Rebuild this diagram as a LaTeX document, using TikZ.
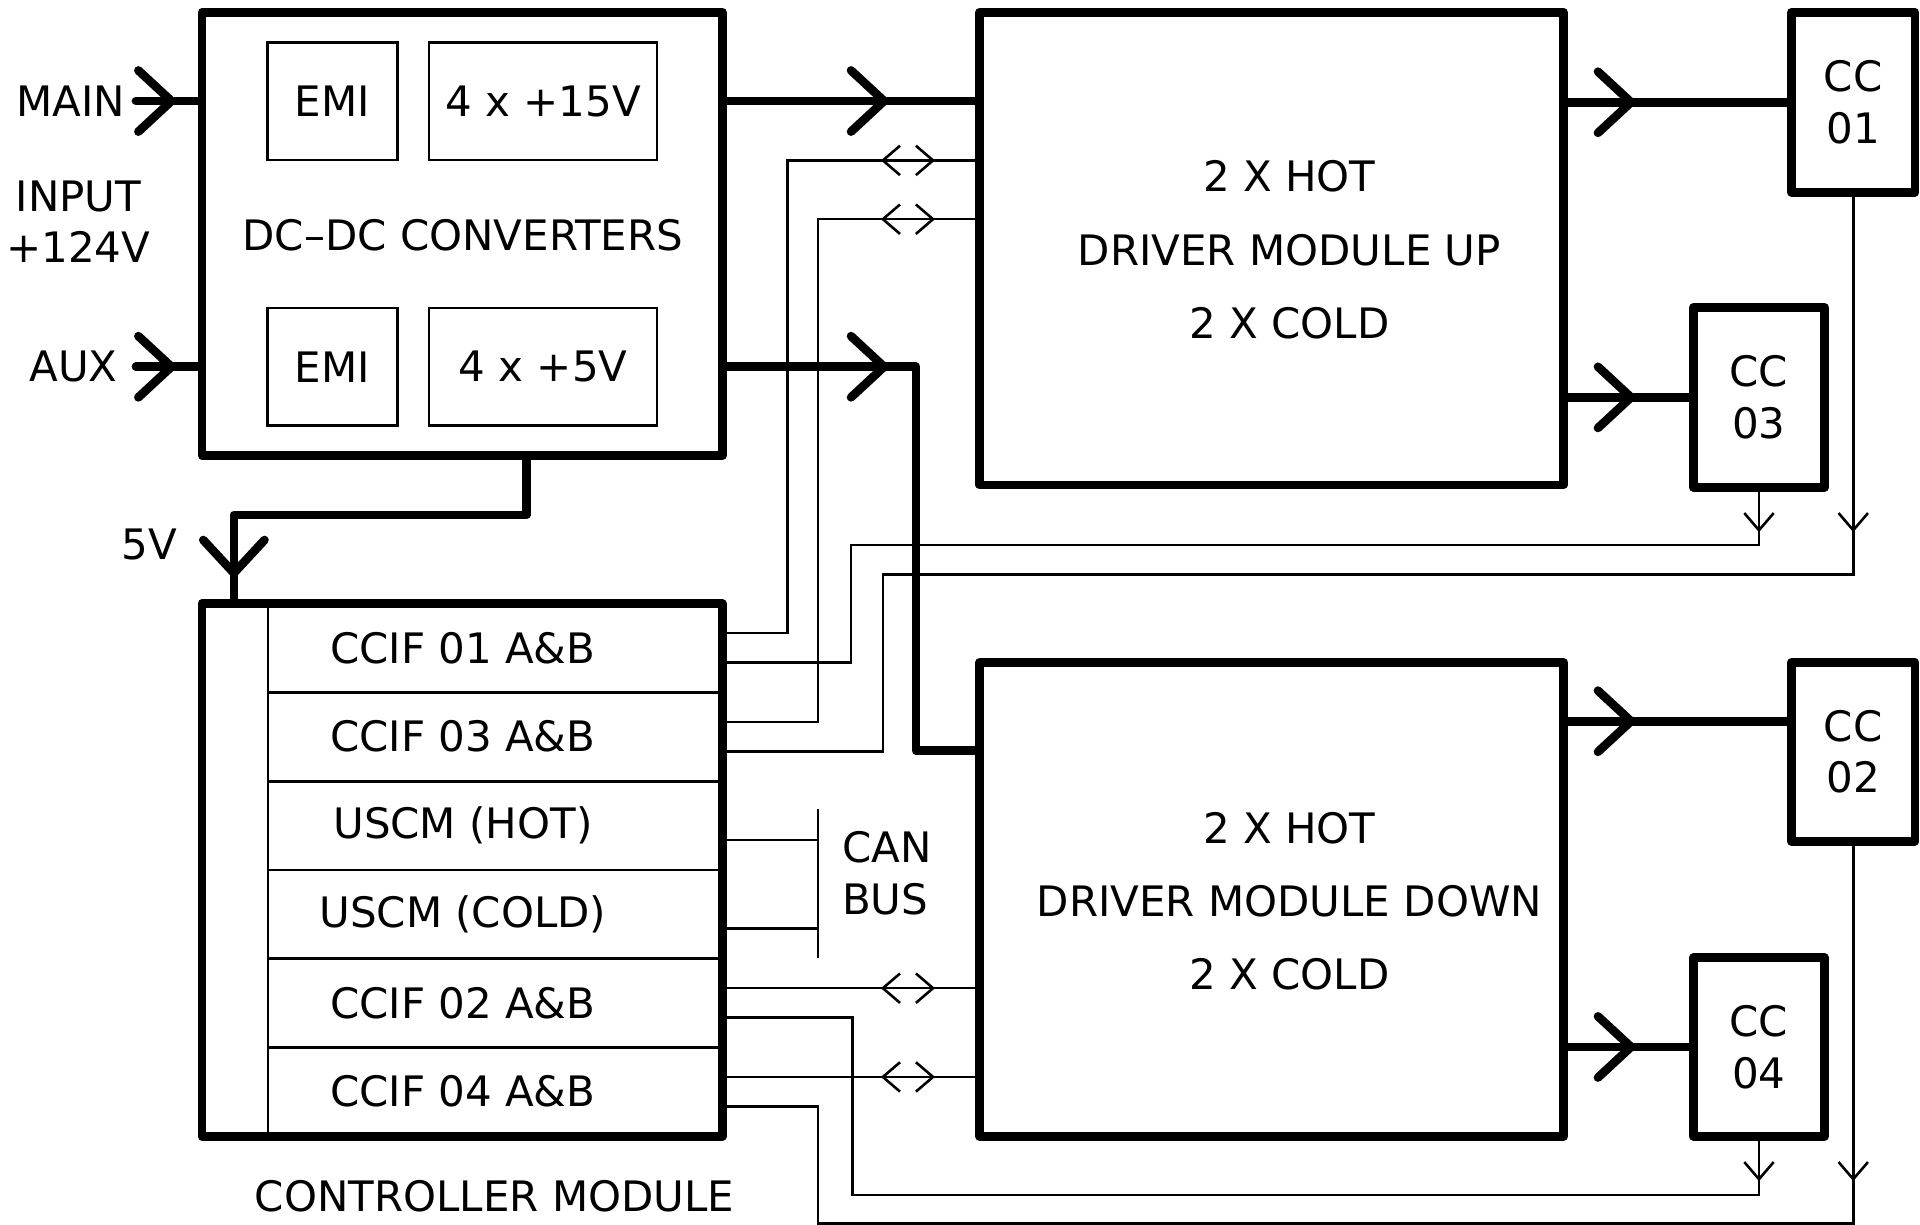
\documentclass[tikz,border=0pt]{standalone}
\usepackage{fontspec}
\setmainfont{DejaVu Sans}
\usetikzlibrary{calc}
\tikzset{
    caja/.style={draw, line width=2pt, line join=round, inner sep=0pt},
    subcaja/.style={draw, line width=0.6pt, inner sep=0pt},
    potencia/.style={line width=2pt, line cap=round, line join=round},
    cable/.style={line width=0.6pt},
    texto/.style={inner sep=0pt, align=center},
    flecha/.pic={\draw[potencia] (-27,-25) -- (0,0) -- (-27,25);},
    punta/.pic={\draw[cable] (-14,-12) -- (0,0) -- (-14,12);},
}

\begin{document}
\begin{tikzpicture}[x=0.1mm, y=-0.1mm, font=\fontsize{9.75}{12}\selectfont]
\useasboundingbox (0,0) rectangle (1568,1000);
% DC-DC converters
\node[caja, minimum width=42.5mm, minimum height=36.2mm] (dcdc) at (377.5,191) {};
\node[subcaja, minimum width=10.6mm, minimum height=9.6mm] (emiA) at (271.5,82.5) {EMI};
\node[subcaja, minimum width=18.6mm, minimum height=9.6mm] (vA) at (443.5,82.5) {4 x +15V};
\node[subcaja, minimum width=10.6mm, minimum height=9.6mm] (emiB) at (271.5,299.5) {EMI};
\node[subcaja, minimum width=18.6mm, minimum height=9.6mm] (vB) at (443.5,299.5) {4 x +5V};
\node[texto] (dctxt) at (378,192) {DC--DC CONVERTERS};
% inputs
\node[texto] (main) at (58,82.5) {MAIN};
\node[texto] (aux) at (60,299.5) {AUX};
\node[texto] (input) at (64,181) {INPUT\\+124V};
\coordinate (entrada) at (111,82.5);
\draw[potencia] (entrada) -- (dcdc.west |- entrada);
\draw[potencia] (entrada |- aux) -- (dcdc.west |- aux);
\pic at (140,82.5) {flecha};
\pic at (140,299.5) {flecha};
% driver modules
\node[caja, minimum width=47.7mm, minimum height=38.6mm] (drvUp) at (1038.5,203) {};
\node[caja, minimum width=47.7mm, minimum height=38.7mm] (drvDn) at (1038.5,734.5) {};
\node[texto, font=\fontsize{9.75}{17}\selectfont] (upTxt) at (1053,204) {2 X HOT\\DRIVER MODULE UP\\2 X COLD};
\node[texto, font=\fontsize{9.75}{17}\selectfont] (dnTxt) at (1053,736) {2 X HOT\\DRIVER MODULE DOWN\\2 X COLD};
% controller module
\node[caja, minimum width=42.5mm, minimum height=43.5mm] (ctrl) at (377.5,710.5) {};
\draw[cable] ([xshift=5.75mm]ctrl.north west) -- ([xshift=5.75mm]ctrl.south west);
\foreach \y in {565.5,638,710.5,783,855.5} {
    \draw[cable] (219,\y) -- (590,\y);
}
\foreach \t [count=\i] in {CCIF 01 A\&B, CCIF 03 A\&B, USCM (HOT), USCM (COLD), CCIF 02 A\&B, CCIF 04 A\&B} {
    \node[texto] (fila\i) at (378,456.5+72.5*\i) {\t};
}
\node[texto] (ctrlTxt) at (404,977) {CONTROLLER MODULE};
% CC boxes
\node[caja, minimum width=10.1mm, minimum height=14.7mm, align=center] (cc1) at (1513.5,83.5) {CC\\01};
\node[caja, minimum width=10.7mm, minimum height=14.7mm, align=center] (cc3) at (1436.5,324.5) {CC\\03};
\node[caja, minimum width=10.1mm, minimum height=14.6mm, align=center] (cc2) at (1513.5,614) {CC\\02};
\node[caja, minimum width=10.7mm, minimum height=14.6mm, align=center] (cc4) at (1436.5,855) {CC\\04};
% power lines
\draw[potencia] (dcdc.east |- vA) -- (drvUp.west |- vA);
\pic at (722,82.5) {flecha};
\coordinate (codo) at (748,613);
\draw[potencia] (dcdc.east |- vB) -| (codo) -- (drvDn.west |- codo);
\pic at (722,299.5) {flecha};
\draw[potencia] ([xshift=5.25mm]dcdc.south) -- ++(0,45) -| ([xshift=-18.65mm]ctrl.north);
\node[texto] (cinco) at (122,445) {5V};
\pic[rotate=-90] at (191,468) {flecha};
\coordinate (y2) at (0,589);
\draw[potencia] (drvUp.east |- cc1) -- (cc1.west);
\draw[potencia] (drvUp.east |- cc3) -- (cc3.west);
\draw[potencia] (drvDn.east |- y2) -- (cc2.west |- y2);
\draw[potencia] (drvDn.east |- cc4) -- (cc4.west);
\foreach \y in {83.5,324.5,589,855} {
    \pic at (1332,\y) {flecha};
}
% signal wires
\foreach \i in {1,2,3,4,5,6} {
    \coordinate (p\i a) at ($(ctrl.east |- fila\i)+(0,-12)$);
    \coordinate (p\i b) at ($(ctrl.east |- fila\i)+(0,12)$);
}
\coordinate (cA) at (643,131);
\coordinate (cB) at (668,179);
\coordinate (cC) at (695,445);
\coordinate (cD) at (721,469);
\coordinate (cH) at (696,976);
\coordinate (cI) at (668,999);
\draw[cable] (drvUp.west |- cA) -- (cA) |- (p1a);
\draw[cable] (drvUp.west |- cB) -- (cB) |- (p2a);
\draw[cable] (cc3.south) |- (cC) |- (p1b);
\draw[cable] (cc1.south) |- (cD) |- (p2b);
\draw[cable] (drvDn.west |- p5a) -- (p5a);
\draw[cable] (drvDn.west |- p6a) -- (p6a);
\draw[cable] (cc4.south) |- (cH) |- (p5b);
\draw[cable] (cc2.south) |- (cI) |- (p6b);
\foreach \y in {131,179,807,879.5} {
    \pic[rotate=180] at (721,\y) {punta};
    \pic at (762,\y) {punta};
}
\foreach \x/\y in {1436.5/433, 1513.5/433, 1436.5/963, 1513.5/963} {
    \pic[rotate=-90] at (\x,\y) {punta};
}
% CAN bus
\coordinate (busTop) at (668,661);
\coordinate (busBot) at (668,782);
\draw[cable] (busTop) -- (busBot);
\draw[cable] (p3b) -- (busTop |- p3b);
\draw[cable] (p4b) -- (busTop |- p4b);
\node[texto, anchor=west, align=left] (can) at (687,713) {CAN\\BUS};
\end{tikzpicture}
\end{document}
